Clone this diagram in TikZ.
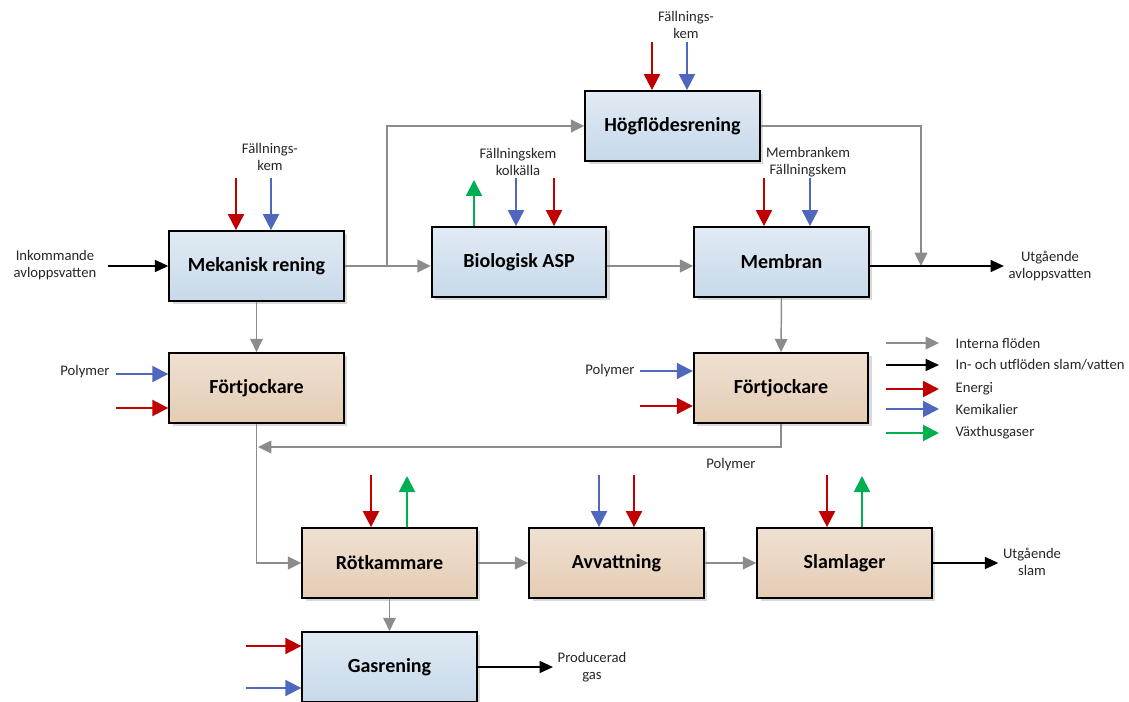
\documentclass[tikz,border=0pt]{standalone}
\usepackage{fontspec}
\setmainfont{Carlito}
\usetikzlibrary{arrows.meta,shadows,positioning}
\definecolor{energi}{RGB}{192,0,0}
\definecolor{kemi}{RGB}{79,104,189}
\definecolor{vaxthus}{RGB}{0,176,80}
\definecolor{intern}{RGB}{140,140,140}

\begin{document}
\begin{tikzpicture}[x=0.75pt,y=-0.75pt,
  box/.style={draw=black,line width=1.3pt,minimum width=131pt,minimum height=52.5pt,
    font=\fontsize{15}{17}\selectfont\bfseries,
    drop shadow={shadow xshift=2.5pt,shadow yshift=-2.5pt,fill=black,opacity=0.15}},
  vatten/.style={box,top color={rgb,255:red,225;green,234;blue,244},bottom color={rgb,255:red,199;green,217;blue,234}},
  slam/.style={box,top color={rgb,255:red,239;green,224;blue,209},bottom color={rgb,255:red,229;green,204;blue,180}},
  lbl/.style={font=\fontsize{11}{13}\selectfont,align=center,text=black!85},
  flode/.style={draw=intern,line width=1.1pt,-{Triangle[length=10pt,width=9.5pt]}},
  ut/.style={draw=black,line width=1.1pt,-{Triangle[length=10pt,width=9pt]}},
  tilf/.style={line width=1.5pt,-{Triangle[length=12pt,width=12pt]}},
  energi/.style={tilf,draw=energi,fill=energi},
  kemi/.style={tilf,draw=kemi,fill=kemi},
  vaxt/.style={tilf,draw=vaxthus,fill=vaxthus}]
\useasboundingbox (0,0) rectangle (1129,702);

%%%%% BOXES %%%%%
\node[vatten] (mek) at (256.5,266) {Mekanisk rening};
\node[vatten] (bio) at (519,262) {Biologisk ASP};
\node[vatten] (mem) at (781.5,262) {Membran};
\node[vatten] (hog) at (672.5,126) {Högflödesrening};
\node[slam] (fj1) at (256.5,388) {Förtjockare};
\node[slam] (fj2) at (781,388) {Förtjockare};
\node[slam] (rot) at (389.5,563) {Rötkammare};
\node[slam] (avv) at (616.5,563) {Avvattning};
\node[slam] (lag) at (844.5,563) {Slamlager};
\node[vatten] (gas) at (389.5,667) {Gasrening};

%%%%% LABELS %%%%%
\node[lbl] (ink) at (55,265) {Inkommande\\avloppsvatten};
\node[lbl] (utv) at (1050,266) {Utgående\\avloppsvatten};
\node[lbl] (uts) at (1032,562) {Utgående\\slam};
\node[lbl] (prod) at (592,667) {Producerad\\gas};
\node[lbl] (fk1) at (270,157) {Fällnings-\\kem};
\node[lbl] (fk2) at (686,25) {Fällnings-\\kem};
\node[lbl] (fkk) at (518,162) {Fällningskem\\kolkälla};
\node[lbl] (mfk) at (808,162) {Membrankem\\Fällningskem};
\node[lbl] (pol1) at (85,372) {Polymer};
\node[lbl] (pol2) at (610,371) {Polymer};
\node[lbl] (pol3) at (731,465) {Polymer};

%%%%% FLOWS %%%%%
\coordinate (gren) at (387,266);
\coordinate (hopp) at (921,266);
\coordinate (retur) at (258,447);
\draw[ut] (ink.east |- mek.west) ++(5pt,0) -- (mek.west);
\draw[flode] (mek.east) -- (mek.east -| bio.west);
\draw[flode] (gren) |- (hog.west);
\draw[flode] (bio.east |- gren) -- (mem.west |- gren);
\draw[flode] (hog.east) -| (hopp);
\draw[ut] (mem.east |- hopp) -- (utv.west |- hopp);
\draw[flode] (mek.south) -- (fj1.north);
\draw[flode] (mem.south) -- (fj2.north);
\draw[flode] (fj2.south) |- (retur);
\draw[flode] (fj1.south) |- (rot.west);
\draw[flode] (rot) -- (avv);
\draw[flode] (avv) -- (lag);
\draw[ut] (lag.east) -- (uts.west |- lag.east);
\draw[flode] (rot.south) -- (gas.north);
\draw[ut] (gas.east) -- (prod.west |- gas.east);

%%%%% ENERGI / KEMIKALIER / GASER %%%%%
\draw[energi] (236,178) -- (236,0 |- mek.north);
\draw[kemi] (271,178) -- (271,0 |- mek.north);
\draw[energi] (652,42) -- (652,0 |- hog.north);
\draw[kemi] (687,42) -- (687,0 |- hog.north);
\draw[vaxt] (474,0 |- bio.north) -- (474,180);
\draw[kemi] (516,178) -- (516,0 |- bio.north);
\draw[energi] (554,178) -- (554,0 |- bio.north);
\draw[energi] (764,178) -- (764,0 |- mem.north);
\draw[kemi] (810,178) -- (810,0 |- mem.north);
\draw[kemi] (116,374) -- (fj1.west |- 0,374);
\draw[energi] (116,408) -- (fj1.west |- 0,408);
\draw[kemi] (640,371) -- (fj2.west |- 0,371);
\draw[energi] (640,406) -- (fj2.west |- 0,406);
\draw[energi] (371,475) -- (371,0 |- rot.north);
\draw[vaxt] (407,0 |- rot.north) -- (407,476);
\draw[kemi] (599,475) -- (599,0 |- avv.north);
\draw[energi] (634,475) -- (634,0 |- avv.north);
\draw[energi] (827,475) -- (827,0 |- lag.north);
\draw[vaxt] (862,0 |- lag.north) -- (862,476);
\draw[energi] (246,646) -- (gas.west |- 0,646);
\draw[kemi] (246,688) -- (gas.west |- 0,688);

%%%%% LEGEND %%%%%
\draw[flode] (886,343) -- ++(53,0);
\draw[ut] (886,365) -- ++(53,0);
\draw[energi] (886,389) -- ++(53,0);
\draw[kemi] (886,409) -- ++(53,0);
\draw[vaxt] (886,433) -- ++(53,0);
\node[lbl,anchor=west] (leg1) at (951,343) {Interna flöden};
\node[lbl,anchor=west] (leg2) at (951,365) {In- och utflöden slam/vatten};
\node[lbl,anchor=west] (leg3) at (951,389) {Energi};
\node[lbl,anchor=west] (leg4) at (951,409) {Kemikalier};
\node[lbl,anchor=west] (leg5) at (951,433) {Växthusgaser};
\end{tikzpicture}
\end{document}
